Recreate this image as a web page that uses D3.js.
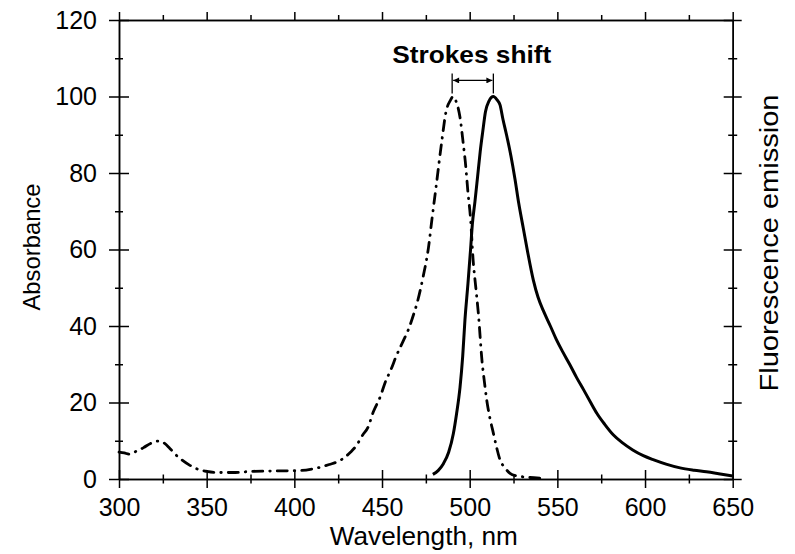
<!DOCTYPE html>
<html>
<head>
<meta charset="utf-8">
<script src="https://cdn.jsdelivr.net/npm/d3@7"></script>
<style>
  body { margin: 0; background: #fff; }
  svg { display: block; font-family: "Liberation Sans", Arial, Helvetica, sans-serif; }
</style>
</head>
<body>
<div id="chart"></div>
<script>
// absorbance spectrum (dash-dot)
const absWavelength = [300, 303, 306, 310, 314, 318, 322, 325, 329, 332, 335, 340, 346, 350, 356, 365, 376, 390, 403, 410, 415, 420, 425, 428, 432, 435, 439, 442, 445, 449, 452, 455, 458, 462, 465, 468, 470, 473.5, 476.5, 478.5, 481, 484, 486.5, 489, 490.5, 492, 494.5, 496.5, 497.5, 499, 500.5, 502, 503.5, 505, 507, 508.5, 509.7, 511.5, 513.5, 515.5, 517.3, 520, 523, 527, 532, 540];
const absValue = [7.0, 6.8, 6.5, 7.3, 8.2, 9.3, 9.9, 9.6, 8.0, 6.5, 5.3, 3.7, 2.4, 2.0, 1.7, 1.7, 2.0, 2.1, 2.2, 2.6, 3.1, 3.8, 4.6, 5.4, 7.0, 8.5, 11.5, 13.5, 17.5, 21.5, 25.5, 28.5, 32, 36, 39, 43, 46, 53, 60.5, 68, 77, 88, 96, 99, 100, 99, 94.5, 87, 83, 75, 68, 57, 50, 43, 31, 25, 20.7, 16, 12, 8, 5, 3, 1.5, 0.8, 0.5, 0.2];

// fluorescence emission spectrum (solid)
const emWavelength = [479, 482, 485, 488, 490.7, 492.5, 494.5, 496, 497.3, 499, 500.5, 501.5, 503, 504.5, 506, 507.5, 509, 511, 513.5, 515.5, 517.3, 519, 521, 523.5, 525.8, 528, 530.6, 533, 536.3, 539, 542, 546, 549.6, 553, 557, 561, 565, 569, 572.5, 577, 582, 587, 593, 599, 605, 612, 620, 628, 635, 642, 650];
const emValue = [1.2, 2.2, 4, 7, 11.9, 17, 24, 32, 41.6, 51, 60, 66.5, 72.5, 79, 85.6, 91, 96, 98.8, 100, 99.2, 97.8, 94, 90, 84.5, 78.5, 72, 65.5, 59.5, 52, 47.5, 44, 40, 36.3, 33.3, 30, 26.5, 23.3, 20, 17.2, 14.3, 11.5, 9.5, 7.6, 6.1, 5, 3.9, 2.9, 2.3, 1.9, 1.4, 0.8];

const xMajor = [300, 350, 400, 450, 500, 550, 600, 650];
const xMinor = [325, 375, 425, 475, 525, 575, 625];
const yMajor = [0, 20, 40, 60, 80, 100, 120];
const yMinor = [10, 30, 50, 70, 90, 110];

const peakAbs = 490;
const peakEm = 513.5;

const width = 795, height = 554;
const margin = { top: 20, right: 62.3, bottom: 75, left: 119 };

const svg = d3.select("#chart").append("svg")
  .attr("width", width)
  .attr("height", height);

const x = d3.scaleLinear().domain([300, 650]).range([margin.left, width - margin.right]);
const y = d3.scaleLinear().domain([0, 120]).range([height - margin.bottom, margin.top]);

const axisStyle = g => {
  g.select(".domain").attr("stroke", "#000").attr("stroke-width", 1.5);
  g.selectAll(".tick line").attr("stroke", "#000").attr("stroke-width", 1.5);
  g.selectAll(".tick text").attr("fill", "#000").attr("font-size", 25)
    .attr("font-family", "'Liberation Sans', Arial, sans-serif");
};

// bottom axis: ticks cross the line
svg.append("g")
  .attr("transform", `translate(0,${y(0)})`)
  .call(d3.axisBottom(x).tickValues(xMajor).tickSize(9).tickSizeOuter(0).tickPadding(10).tickFormat(d3.format("d")))
  .call(axisStyle)
  .call(g => g.selectAll(".tick line").attr("y1", -9));
svg.append("g")
  .attr("transform", `translate(0,${y(0)})`)
  .call(d3.axisBottom(x).tickValues(xMinor).tickSize(4.5).tickSizeOuter(0).tickFormat(""))
  .call(axisStyle)
  .call(g => g.selectAll(".tick line").attr("y1", -4.5));

// top axis: outward ticks only
svg.append("g")
  .attr("transform", `translate(0,${y(120)})`)
  .call(d3.axisTop(x).tickValues(xMajor).tickSize(8).tickSizeOuter(0).tickFormat(""))
  .call(axisStyle);
svg.append("g")
  .attr("transform", `translate(0,${y(120)})`)
  .call(d3.axisTop(x).tickValues(xMinor).tickSize(5).tickSizeOuter(0).tickFormat(""))
  .call(axisStyle);

// left axis
svg.append("g")
  .attr("transform", `translate(${x(300)},0)`)
  .call(d3.axisLeft(y).tickValues(yMajor).tickSize(10).tickSizeOuter(0).tickPadding(12))
  .call(axisStyle)
  .call(g => g.selectAll(".tick line").attr("x1", 10));
svg.append("g")
  .attr("transform", `translate(${x(300)},0)`)
  .call(d3.axisLeft(y).tickValues(yMinor).tickSize(4).tickSizeOuter(0).tickFormat(""))
  .call(axisStyle)
  .call(g => g.selectAll(".tick line").attr("x1", 4));

// right axis, no labels
svg.append("g")
  .attr("transform", `translate(${x(650)},0)`)
  .call(d3.axisRight(y).tickValues(yMajor).tickSize(9).tickSizeOuter(0).tickFormat(""))
  .call(axisStyle)
  .call(g => g.selectAll(".tick line").attr("x1", -9));
svg.append("g")
  .attr("transform", `translate(${x(650)},0)`)
  .call(d3.axisRight(y).tickValues(yMinor).tickSize(4.5).tickSizeOuter(0).tickFormat(""))
  .call(axisStyle)
  .call(g => g.selectAll(".tick line").attr("x1", -4.5));

// curves
const line = d3.line()
  .x(d => x(d[0]))
  .y(d => y(d[1]))
  .curve(d3.curveMonotoneX);

svg.append("path")
  .datum(d3.zip(absWavelength, absValue))
  .attr("fill", "none")
  .attr("stroke", "#000")
  .attr("stroke-width", 2.8)
  .attr("stroke-linecap", "round")
  .attr("stroke-dasharray", "10,7,0.5,7")
  .attr("d", line);

svg.append("path")
  .datum(d3.zip(emWavelength, emValue))
  .attr("fill", "none")
  .attr("stroke", "#000")
  .attr("stroke-width", 3)
  .attr("stroke-linejoin", "round")
  .attr("d", line);

// Stokes shift annotation
const defs = svg.append("defs");
defs.append("marker")
  .attr("id", "arrow")
  .attr("viewBox", "0 0 10 10")
  .attr("refX", 10).attr("refY", 5)
  .attr("markerWidth", 7).attr("markerHeight", 6)
  .attr("markerUnits", "userSpaceOnUse")
  .attr("orient", "auto-start-reverse")
  .append("path")
  .attr("d", "M0,0L10,5L0,10Z")
  .attr("fill", "#000");

svg.append("g")
  .selectAll("line")
  .data([peakAbs, peakEm])
  .join("line")
  .attr("x1", d => x(d)).attr("x2", d => x(d))
  .attr("y1", y(106)).attr("y2", y(100.8))
  .attr("stroke", "#000").attr("stroke-width", 1.3);

svg.append("line")
  .attr("x1", x(peakAbs) + 1).attr("x2", x(peakEm) - 1)
  .attr("y1", y(104.2)).attr("y2", y(104.2))
  .attr("stroke", "#000").attr("stroke-width", 1.3)
  .attr("marker-start", "url(#arrow)")
  .attr("marker-end", "url(#arrow)");

svg.append("text")
  .attr("x", (x(peakAbs) + x(peakEm)) / 2 - 1)
  .attr("y", 63)
  .attr("text-anchor", "middle")
  .attr("font-size", 24)
  .attr("font-weight", "bold")
  .attr("textLength", 159)
  .attr("lengthAdjust", "spacingAndGlyphs")
  .text("Strokes shift");

// axis titles
svg.append("text")
  .attr("x", (x(300) + x(650)) / 2 - 2)
  .attr("y", 545)
  .attr("text-anchor", "middle")
  .attr("font-size", 25)
  .attr("textLength", 188)
  .attr("lengthAdjust", "spacingAndGlyphs")
  .text("Wavelength, nm");

svg.append("text")
  .attr("transform", `translate(40,247) rotate(-90)`)
  .attr("text-anchor", "middle")
  .attr("font-size", 24)
  .attr("textLength", 127)
  .attr("lengthAdjust", "spacingAndGlyphs")
  .text("Absorbance");

svg.append("text")
  .attr("transform", `translate(778,243) rotate(-90)`)
  .attr("text-anchor", "middle")
  .attr("font-size", 25)
  .attr("textLength", 297)
  .attr("lengthAdjust", "spacingAndGlyphs")
  .text("Fluorescence emission");
</script>
</body>
</html>
